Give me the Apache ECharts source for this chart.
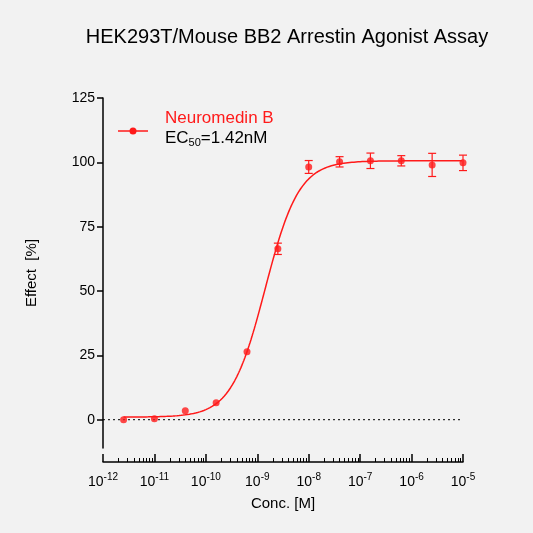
<!DOCTYPE html><html><head><meta charset="utf-8"><script src="https://cdn.jsdelivr.net/npm/echarts@6/dist/echarts.min.js"></script>
<style>html,body{margin:0;background:#f2f2f2}#c{width:533px;height:533px}</style></head><body><div id="c"></div><script>
const logConc=[-11.6,-11.0,-10.4,-9.8,-9.2,-8.6,-8.0,-7.4,-6.8,-6.2,-5.6,-5.0];
const effect=[0,0.4,3.5,6.6,26.4,66.4,98.2,100.2,100.6,100.6,99,99.8];
const errs=[0,0,0,0,0,2.2,2.5,2,3,2,4.5,3];
const fitBottom=1,fitTop=100.6,logEC50=Math.log10(1.42e-9),hill=1.32;
const pts=logConc.map((l,i)=>[Math.pow(10,l),effect[i]]);
const curve=[];for(let l=-11.6;l<=-5.0001;l+=0.02){curve.push([Math.pow(10,l),fitBottom+(fitTop-fitBottom)/(1+Math.pow(10,hill*(logEC50-l)))]);}
const F='Liberation Sans';
const ch=echarts.init(document.getElementById('c'));
ch.setOption({backgroundColor:'#f2f2f2',animation:false,
title:{text:'HEK293T/Mouse BB2 Arrestin Agonist Assay',left:282,top:22,textAlign:'center',textStyle:{fontFamily:F,fontSize:20,fontWeight:'normal',color:'#000'}},
grid:{left:103,right:70,top:98,bottom:85},
xAxis:{type:'log',logBase:10,min:1e-12,max:1e-5,offset:14,name:'Conc. [M]',nameLocation:'middle',nameGap:34,nameTextStyle:{fontFamily:F,fontSize:15,color:'#000'},
axisLine:{onZero:false,lineStyle:{color:'#000',width:1.5}},axisTick:{inside:true,length:8,lineStyle:{color:'#000',width:1.5}},minorTick:{show:true,splitNumber:9,length:4,lineStyle:{color:'#000'}},
splitLine:{show:false},axisLabel:{margin:10,formatter:v=>'{b|10}{s|'+Math.round(Math.log10(v))+'}',rich:{b:{fontFamily:F,fontSize:14,color:'#000'},s:{fontFamily:F,fontSize:10,color:'#000',padding:[0,0,10,0]}}}},
yAxis:{type:'value',min:-11,max:125,interval:25,name:'Effect  [%]',nameLocation:'middle',nameGap:64,nameTextStyle:{fontFamily:F,fontSize:15,color:'#000'},
axisLine:{show:true,lineStyle:{color:'#000',width:1.5}},axisTick:{show:true,length:6,lineStyle:{color:'#000',width:1.5},customValues:[0,25,50,75,100,125]},splitLine:{show:false},
axisLabel:{fontFamily:F,fontSize:14,color:'#000',customValues:[0,25,50,75,100,125]}},
series:[
{type:'line',data:[[1e-12,0],[1e-5,0]],showSymbol:false,silent:true,lineStyle:{color:'#000',type:[2,3],width:1},z:1},
{type:'line',data:curve,showSymbol:false,lineStyle:{color:'#ff1a1a',width:1.5}},
{type:'scatter',data:pts,symbolSize:7,itemStyle:{color:'#ff1a1a'}},
{type:'custom',data:logConc.map((l,i)=>[Math.pow(10,l),effect[i]-errs[i],effect[i]+errs[i]]),renderItem:(p,api)=>{const a=api.coord([api.value(0),api.value(1)]),b=api.coord([api.value(0),api.value(2)]);if(Math.abs(a[1]-b[1])<1)return null;const s={stroke:'#ff1a1a',lineWidth:1.2};return{type:'group',children:[{type:'line',shape:{x1:a[0],y1:a[1],x2:b[0],y2:b[1]},style:s},{type:'line',shape:{x1:a[0]-4,y1:a[1],x2:a[0]+4,y2:a[1]},style:s},{type:'line',shape:{x1:b[0]-4,y1:b[1],x2:b[0]+4,y2:b[1]},style:s}]};}}
],
graphic:[{type:'line',shape:{x1:118,y1:131,x2:148,y2:131},style:{stroke:'#ff1a1a',lineWidth:1.5}},{type:'circle',shape:{cx:133,cy:131,r:3.5},style:{fill:'#ff1a1a'}},
{type:'text',left:165,top:110,style:{text:'Neuromedin B',font:'17px Liberation Sans',fill:'#ff1a1a'}},
{type:'text',left:165,top:130,style:{text:'{a|EC}{b|50}{a|=1.42nM}',rich:{a:{fontFamily:F,fontSize:17,color:'#ff1a1a'},b:{fontFamily:F,fontSize:11,color:'#ff1a1a',padding:[8,0,0,0]}}}}]
});
</script></body></html>
